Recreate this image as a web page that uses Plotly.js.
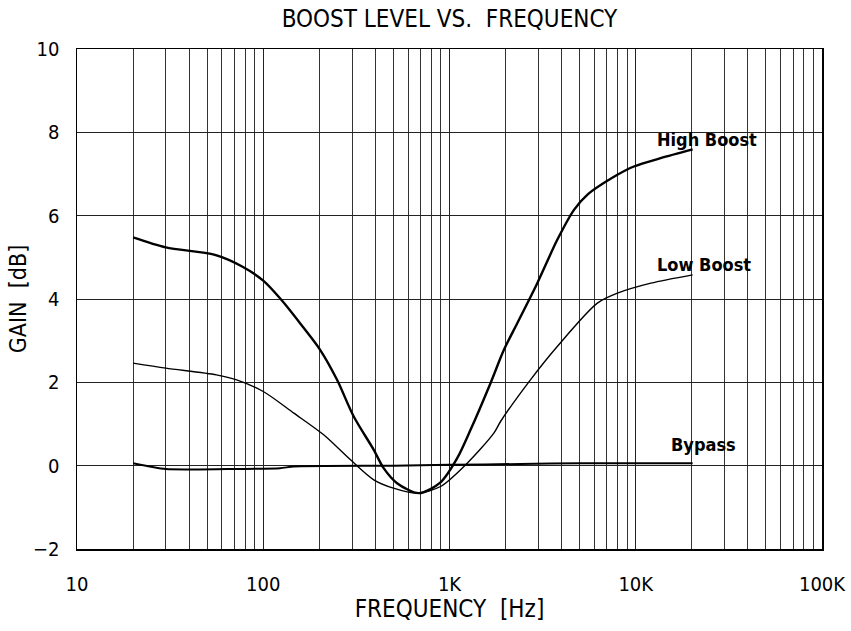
<!DOCTYPE html>
<html>
<head>
<meta charset="utf-8">
<script src="https://cdn.plot.ly/plotly-3.0.1.min.js"></script>
<style>
html,body{margin:0;padding:0;background:#fff;}
#chart{width:851px;height:631px;}
#chart svg text{font-stretch:condensed !important;}
</style>
</head>
<body>
<div id="chart"></div>
<script>
// Frequency [Hz] and gain [dB]
const highFreq = [20, 30, 55, 77, 100, 125, 160, 202, 249, 306, 392, 443, 523, 684, 895, 1100, 1297, 1660, 1960, 2311, 2960, 3790, 4660, 5490, 7970, 9770, 13600, 20200];
const highGain = [5.48, 5.24, 5.06, 4.78, 4.44, 3.98, 3.38, 2.78, 2.06, 1.18, 0.38, -0.06, -0.42, -0.66, -0.40, 0.18, 0.86, 1.98, 2.78, 3.42, 4.38, 5.42, 6.14, 6.50, 6.98, 7.18, 7.38, 7.59];

const lowFreq = [20, 30, 56, 72, 100, 146, 211, 294, 392, 500, 670, 895, 1245, 1730, 1880, 2720, 3790, 6220, 7970, 12050, 20200];
const lowGain = [2.46, 2.34, 2.18, 2.06, 1.78, 1.26, 0.74, 0.14, -0.34, -0.54, -0.66, -0.50, 0.06, 0.78, 1.06, 2.06, 2.86, 3.90, 4.14, 4.38, 4.58];

const bypassFreq = [20, 30, 64, 123, 146, 500, 1000, 2400, 5000, 20200];
const bypassGain = [0.06, -0.08, -0.08, -0.06, -0.02, 0.0, 0.02, 0.04, 0.06, 0.06];

const seriesNames = ["High Boost", "Low Boost", "Bypass"];
const labelGain = [7.84, 4.82, 0.50];

const decadeVals = [10, 100, 1000, 10000, 100000];
const decadeText = ["10", "100", "1K", "10K", "100K"];
const minorVals = [];
[10, 100, 1000, 10000].forEach(d => { for (let k = 2; k <= 9; k++) minorVals.push(d * k); });
const yTicks = [-2, 0, 2, 4, 6, 8, 10];

const FONT = "DejaVu Sans Condensed, DejaVu Sans, sans-serif";

const traces = [
  {x: highFreq, y: highGain, name: seriesNames[0], mode: "lines", line: {color: "#000", width: 2.4, shape: "spline", smoothing: 0.8}},
  {x: lowFreq, y: lowGain, name: seriesNames[1], mode: "lines", line: {color: "#000", width: 1.4, shape: "spline", smoothing: 0.8}},
  {x: bypassFreq, y: bypassGain, name: seriesNames[2], mode: "lines", line: {color: "#000", width: 2, shape: "spline", smoothing: 0.6}}
];

const labelShift = [14, 11, 11];
const annotations = seriesNames.map((n, i) => ({
  x: Math.log10(20200), y: labelGain[i], xref: "x", yref: "y",
  text: "<b>" + n + "</b>", showarrow: false, xanchor: "center", yanchor: "middle",
  xshift: labelShift[i], font: {family: FONT, size: 18, color: "#000"}
}));

const layout = {
  width: 851, height: 631,
  margin: {l: 77, r: 29, t: 49, b: 82},
  paper_bgcolor: "#fff", plot_bgcolor: "#fff",
  showlegend: false,
  font: {family: FONT, color: "#000", size: 17},
  title: {text: "BOOST LEVEL VS.  FREQUENCY", font: {family: FONT, size: 24, color: "#000"}, x: 0.5, xref: "paper", xanchor: "center", y: 0.970, yanchor: "middle"},
  xaxis: {
    type: "log", range: [1, 5],
    tickvals: decadeVals, ticktext: decadeText,
    ticks: "", ticklabelstandoff: 16,
    showgrid: true, gridcolor: "#222", gridwidth: 1,
    minor: {tickvals: minorVals, showgrid: true, gridcolor: "#333", gridwidth: 1, ticks: ""},
    showline: true, linecolor: "#000", linewidth: 1.5, mirror: true,
    zeroline: false,
    tickfont: {family: FONT, size: 20, color: "#000"},
    title: {text: "FREQUENCY  [Hz]", font: {family: FONT, size: 24, color: "#000"}, standoff: 2}
  },
  yaxis: {
    range: [-2, 10], tickvals: yTicks,
    ticks: "", ticklabelstandoff: 12,
    showgrid: true, gridcolor: "#222", gridwidth: 1,
    showline: true, linecolor: "#000", linewidth: 1.5, mirror: true,
    zeroline: false,
    tickfont: {family: FONT, size: 20, color: "#000"},
    title: {text: "GAIN  [dB]", font: {family: FONT, size: 23, color: "#000"}, standoff: 0}
  },
  annotations: annotations
};

Plotly.newPlot("chart", traces, layout, {staticPlot: true, displayModeBar: false});
</script>
</body>
</html>
